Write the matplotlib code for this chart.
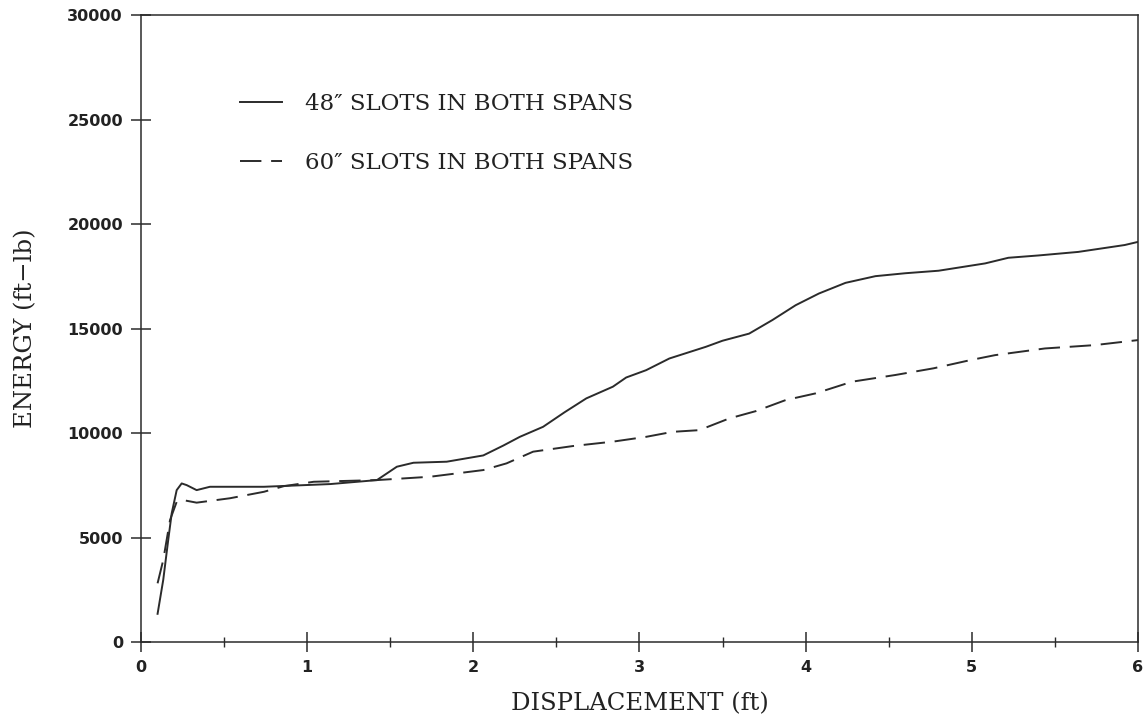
import matplotlib
matplotlib.use('Agg')
import matplotlib.pyplot as plt
from matplotlib.ticker import MultipleLocator

# --- data ---
disp_48 = [0.10, 0.134, 0.164, 0.185, 0.215, 0.245, 0.275, 0.335, 0.415, 0.74,
           1.14, 1.42, 1.54, 1.64, 1.84, 2.06, 2.18, 2.28, 2.42, 2.55, 2.68,
           2.84, 2.92, 3.04, 3.18, 3.40, 3.50, 3.66, 3.80, 3.94, 4.08, 4.24,
           4.42, 4.60, 4.80, 5.08, 5.22, 5.40, 5.64, 5.92, 6.00]
energy_48 = [1350, 2970, 4880, 6160, 7270, 7590, 7510, 7270, 7430, 7430,
             7560, 7750, 8390, 8580, 8630, 8930, 9400, 9820, 10300, 11000, 11660,
             12220, 12660, 13010, 13570, 14130, 14420, 14760, 15410, 16120, 16680, 17190,
             17510, 17650, 17770, 18120, 18390, 18500, 18670, 19000, 19150]

disp_60 = [0.10, 0.134, 0.175, 0.215, 0.255, 0.335, 0.535, 0.74, 0.86, 1.04,
           1.42, 1.74, 2.06, 2.20, 2.36, 2.60, 2.84, 3.04, 3.20, 3.36, 3.54,
           3.70, 3.88, 4.06, 4.28, 4.54, 4.77, 4.99, 5.14, 5.29, 5.44, 5.74, 6.00]
energy_60 = [2810, 3920, 5840, 6710, 6790, 6670, 6880, 7190, 7460, 7670,
             7750, 7910, 8230, 8550, 9110, 9380, 9590, 9820, 10060, 10140, 10700,
             11050, 11580, 11900, 12460, 12780, 13100, 13490, 13730, 13890, 14050, 14210, 14450]

label_48 = "48\u2033 SLOTS IN BOTH SPANS"
label_60 = "60\u2033 SLOTS IN BOTH SPANS"

INK = "#2b2b2b"
SERIF = ['DejaVu Serif', 'DejaVu Sans']

fig = plt.figure(figsize=(11.46, 7.23), dpi=100, facecolor='white')
ax = fig.add_axes([0.123, 0.112, 0.870, 0.867])

ax.plot(disp_48, energy_48, color=INK, lw=1.4, label=label_48)
ax.plot(disp_60, energy_60, color=INK, lw=1.4, dashes=(11, 5), label=label_60)

ax.set_xlim(0, 6)
ax.set_ylim(0, 30000)
ax.xaxis.set_major_locator(MultipleLocator(1))
ax.xaxis.set_minor_locator(MultipleLocator(0.5))
ax.yaxis.set_major_locator(MultipleLocator(5000))

for s in ax.spines.values():
    s.set_color(INK)
    s.set_linewidth(1.1)

ax.tick_params(axis='both', which='major', direction='inout', length=14,
               width=1.1, color=INK, labelsize=11.5, pad=6)
ax.tick_params(axis='x', which='minor', direction='inout', length=7,
               width=1.0, color=INK)
for lab in ax.get_xticklabels() + ax.get_yticklabels():
    lab.set_fontweight('bold')
    lab.set_color('#222222')

ax.set_xlabel("DISPLACEMENT (ft)", family=SERIF, fontsize=17.5, color='#222222', labelpad=12)
ax.set_ylabel("ENERGY (ft\u2212lb)", family=SERIF, fontsize=17.5, color='#222222', labelpad=22)

leg = ax.legend(loc='upper left', bbox_to_anchor=(0.079, 0.908), frameon=False,
                handlelength=1.8, handletextpad=1.0, labelspacing=1.6,
                prop={'family': SERIF, 'size': 16.5})
for t in leg.get_texts():
    t.set_color('#222222')

fig.savefig("out.png", dpi=100, facecolor='white')
